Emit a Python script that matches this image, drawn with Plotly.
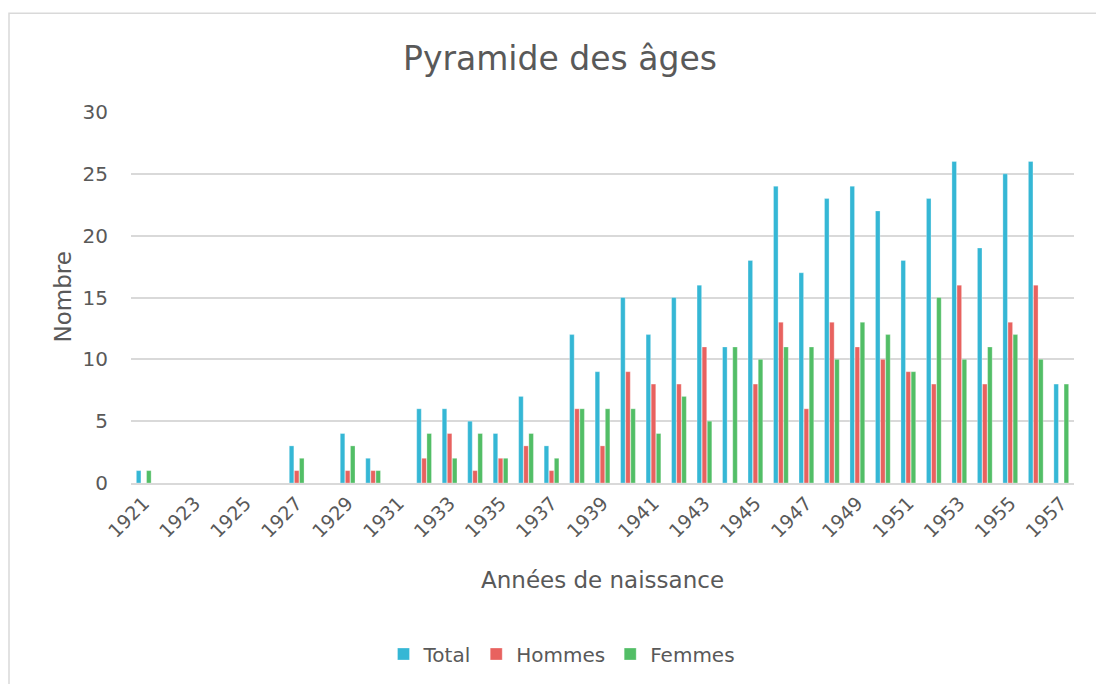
import plotly.graph_objects as go

years = list(range(1921, 1958))
total = [1, None, None, None, None, None, 3, None, 4, 2, None, 6, 6, 5, 4, 7, 3, 12, 9, 15,
         12, 15, 16, 11, 18, 24, 17, 23, 24, 22, 18, 23, 26, 19, 25, 26, 8]
hommes = [None, None, None, None, None, None, 1, None, 1, 1, None, 2, 4, 1, 2, 3, 1, 6, 3, 9,
          8, 8, 11, None, 8, 13, 6, 13, 11, 10, 9, 8, 16, 8, 13, 16, None]
femmes = [1, None, None, None, None, None, 2, None, 3, 1, None, 4, 2, 4, 2, 4, 2, 6, 6, 6,
          4, 7, 5, 11, 10, 11, 11, 10, 13, 12, 9, 15, 10, 11, 12, 10, 8]
series = [("Total", total, "#35B7D5"), ("Hommes", hommes, "#E8625F"), ("Femmes", femmes, "#52BE66")]
tick_years = list(range(1921, 1958, 2))

W, H = 1096, 684
L, R, T, B = 131, 1074, 112, 484
pw, ph = R - L, B - T

def px(x):
    return (x - L) / pw

def py(y):
    return (B - y) / ph

FONT = "DejaVu Sans"
TXT = "#595959"

fig = go.Figure()
for name, vals, col in series:
    fig.add_trace(go.Bar(
        x=years, y=vals, name=name,
        marker=dict(color=col, line=dict(color="rgba(255,255,255,0.5)", width=0.6)),
    ))

fig.update_layout(
    width=W, height=H,
    margin=dict(l=L, r=W - R, t=T, b=H - B),
    paper_bgcolor="white", plot_bgcolor="white",
    barmode="group", bargap=0.4, bargroupgap=0.1,
    font=dict(family=FONT, color=TXT),
    showlegend=True,
    legend=dict(orientation="h", x=px(562), xanchor="center", y=py(654), yanchor="middle",
                font=dict(family=FONT, size=20, color=TXT), itemwidth=30,
                traceorder="normal"),
    xaxis=dict(range=[1920.5, 1957.5], tickmode="array", tickvals=tick_years,
               ticktext=[str(y) for y in tick_years], tickangle=-45,
               tickfont=dict(family=FONT, size=19, color=TXT),
               showgrid=False, zeroline=False, showline=True, linecolor="#d9d9d9", linewidth=1.5,
               ticks=""),
    yaxis=dict(range=[0, 30], dtick=5, tickfont=dict(family=FONT, size=20, color=TXT),
               showgrid=True, gridcolor="#d9d9d9", gridwidth=1.5, zeroline=False,
               ticks="", ticklabelstandoff=22),
    shapes=[dict(type="rect", xref="paper", yref="paper",
                 x0=px(9), x1=px(1120), y0=py(720), y1=py(13),
                 line=dict(color="#d9d9d9", width=1.5), fillcolor="rgba(0,0,0,0)", layer="below")],
    annotations=[
        dict(text="Pyramide des âges", xref="paper", yref="paper", x=px(560), y=py(58),
             xanchor="center", yanchor="middle", showarrow=False,
             font=dict(family=FONT, size=33, color=TXT)),
        dict(text="Nombre", xref="paper", yref="paper", x=px(62), y=py(298),
             xanchor="center", yanchor="middle", showarrow=False, textangle=-90,
             font=dict(family=FONT, size=23, color=TXT)),
        dict(text="Années de naissance", xref="paper", yref="paper", x=px(602), y=py(581),
             xanchor="center", yanchor="middle", showarrow=False,
             font=dict(family=FONT, size=23, color=TXT)),
    ],
)

fig.write_html("out.html", config={"displayModeBar": False},
               post_script="document.body.style.margin='0px';")
